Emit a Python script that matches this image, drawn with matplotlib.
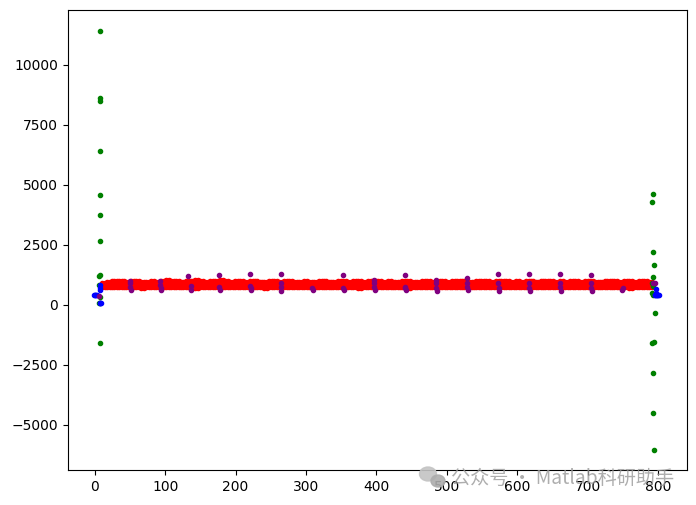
import matplotlib.pyplot as plt
from matplotlib.patches import Ellipse

# red band, sampled along x
red_x = [10, 17, 24, 31, 38, 45, 52, 59, 66, 73, 80, 87, 94, 101, 108, 115, 122, 129, 136, 143,
         150, 157, 164, 171, 178, 185, 192, 199, 206, 213, 220, 227, 234, 241, 248, 255, 262, 269, 276, 283,
         290, 297, 304, 311, 318, 325, 332, 339, 346, 353, 360, 367, 374, 381, 388, 395, 402, 409, 416, 423,
         430, 437, 444, 451, 458, 465, 472, 479, 486, 493, 500, 507, 514, 521, 528, 535, 542, 549, 556, 563,
         570, 577, 584, 591, 598, 605, 612, 619, 626, 633, 640, 647, 654, 661, 668, 675, 682, 689, 696, 703,
         710, 717, 724, 731, 738, 745, 752, 759, 766, 773, 780, 787]
red_x2 = [14, 21, 28, 35, 42, 49, 56, 63, 70, 77, 84, 91, 98, 105, 112, 119, 126, 133, 140, 147,
          154, 161, 168, 175, 182, 189, 196, 203, 210, 217, 224, 231, 238, 245, 252, 259, 266, 273, 280, 287,
          294, 301, 308, 315, 322, 329, 336, 343, 350, 357, 364, 371, 378, 385, 392, 399, 406, 413, 420, 427,
          434, 441, 448, 455, 462, 469, 476, 483, 490, 497, 504, 511, 518, 525, 532, 539, 546, 553, 560, 567,
          574, 581, 588, 595, 602, 609, 616, 623, 630, 637, 644, 651, 658, 665, 672, 679, 686, 693, 700, 707,
          714, 721, 728, 735, 742, 749, 756, 763, 770, 777, 784, 791]
red_top = [900, 960, 990, 1010, 980, 960, 980, 990, 960, 970, 980, 960, 990, 1030, 1000, 980, 960, 990, 1020, 1030,
           990, 960, 980, 1010, 1030, 990, 970, 990, 980, 960, 1000, 990, 970, 960, 990, 980, 960, 1000, 980, 960,
           950, 980, 960, 940, 980, 990, 960, 970, 980, 1000, 960, 980, 990, 970, 1010, 1020, 980, 960, 990, 970,
           960, 980, 1000, 960, 950, 990, 980, 970, 1000, 980, 960, 990, 1010, 980, 970, 960, 1000, 980, 990, 960,
           980, 1010, 990, 970, 980, 960, 1000, 980, 970, 990, 1010, 980, 960, 990, 970, 980, 1000, 960, 980, 990,
           970, 960, 990, 980, 1000, 970, 980, 990, 960, 980, 1000, 970]
red_upper = [860, 880, 880, 880, 880, 880, 880, 880, 880, 880, 880, 880, 880, 880, 880, 880, 880, 880, 880, 880,
             880, 880, 880, 880, 880, 880, 880, 880, 880, 880, 880, 880, 880, 880, 880, 880, 880, 880, 880, 880,
             880, 880, 880, 880, 880, 880, 880, 880, 880, 880, 880, 880, 880, 880, 880, 880, 880, 880, 880, 880,
             880, 880, 880, 880, 880, 880, 880, 880, 880, 880, 880, 880, 880, 880, 880, 880, 880, 880, 880, 880,
             880, 880, 880, 880, 880, 880, 880, 880, 880, 880, 880, 880, 880, 880, 880, 880, 880, 880, 880, 880,
             880, 880, 880, 880, 880, 880, 880, 880, 880, 880, 880, 880]
red_lower = [800, 810, 810, 810, 810, 810, 810, 810, 810, 810, 810, 810, 810, 810, 810, 810, 810, 810, 810, 810,
             810, 810, 810, 810, 810, 810, 810, 810, 810, 810, 810, 810, 810, 810, 810, 810, 810, 810, 810, 810,
             810, 810, 810, 810, 810, 810, 810, 810, 810, 810, 810, 810, 810, 810, 810, 810, 810, 810, 810, 810,
             810, 810, 810, 810, 810, 810, 810, 810, 810, 810, 810, 810, 810, 810, 810, 810, 810, 810, 810, 810,
             810, 810, 810, 810, 810, 810, 810, 810, 810, 810, 810, 810, 810, 810, 810, 810, 810, 810, 810, 810,
             810, 810, 810, 810, 810, 810, 810, 810, 810, 810, 810, 810]
red_bottom = [740, 730, 730, 735, 730, 730, 735, 730, 720, 730, 730, 735, 730, 730, 730, 735, 730, 730, 730, 720,
              730, 735, 730, 730, 730, 730, 735, 730, 730, 730, 730, 735, 730, 720, 730, 730, 735, 730, 730, 730,
              735, 730, 730, 730, 730, 735, 730, 730, 730, 730, 735, 730, 700, 730, 730, 730, 735, 730, 730, 730,
              735, 730, 700, 730, 730, 735, 730, 730, 730, 730, 735, 730, 730, 730, 730, 735, 730, 730, 730, 735,
              730, 730, 730, 730, 735, 730, 730, 730, 730, 735, 730, 730, 730, 730, 735, 730, 730, 730, 730, 735,
              730, 730, 730, 730, 735, 730, 730, 700, 730, 730, 735, 730]

green_x = [7, 7, 7, 7, 7, 7, 7, 7, 6, 6, 7, 6, 7, 7,
           793, 792, 793, 794, 793, 792, 793, 792, 793, 795, 794, 792, 793, 793, 794]
green_y = [11400, 8620, 8500, 6400, 4600, 3750, 2650, 1250, 1200, 850, 350, 100, 100, -1600,
           4620, 4300, 2200, 1650, 1170, 920, 800, 500, 400, -350, -1550, -1600, -2850, -4500, -6050]

blue_x = [-1, 0, 1, 2, 3, 8, 8, 8, 7, 8, 9, 797, 797, 795, 796, 797, 798, 799, 800, 801]
blue_y = [400, 400, 400, 400, 400, 820, 720, 620, 80, 80, 80, 660, 500, 400, 400, 400, 400, 400, 400, 400]

purple_x = [6, 50, 50, 50, 51, 93, 93, 94, 94, 132, 137, 137, 177, 177, 178, 221, 221, 222, 222,
            265, 265, 265, 265, 309, 310, 353, 353, 354, 397, 397, 397, 398, 441, 441, 441, 442,
            485, 485, 485, 486, 529, 529, 529, 530, 573, 573, 574, 574, 617, 617, 617, 618,
            661, 661, 661, 662, 705, 705, 705, 706, 749, 750, 793, 795]
purple_y = [375, 1020, 900, 750, 620, 1000, 850, 720, 620, 1220, 800, 620, 1260, 750, 640, 1300, 800, 720, 620,
            1300, 900, 760, 600, 720, 620, 1260, 720, 620, 1060, 900, 760, 620, 1260, 760, 700, 620,
            1040, 900, 720, 600, 1120, 900, 760, 620, 1300, 900, 720, 580, 1300, 900, 720, 580,
            1300, 900, 760, 580, 1260, 900, 720, 600, 640, 700, 900, 900]

x_ticks = [0, 100, 200, 300, 400, 500, 600, 700, 800]
y_ticks = [-5000, -2500, 0, 2500, 5000, 7500, 10000]

fig = plt.figure(figsize=(6.96, 5.05), dpi=100)
ax = fig.add_axes([68 / 696, 1 - 470 / 505, 619 / 696, 460 / 505])

ax.plot(red_x, red_top, '.', color='red')
ax.plot(red_x2, red_top, '.', color='red')
ax.plot(red_x, red_upper, '.', color='red')
ax.plot(red_x2, red_upper, '.', color='red')
ax.plot(red_x, red_lower, '.', color='red')
ax.plot(red_x2, red_lower, '.', color='red')
ax.plot(red_x, red_bottom, '.', color='red')
ax.plot(red_x2, red_bottom, '.', color='red')
ax.plot(green_x, green_y, '.', color='green')
ax.plot(blue_x, blue_y, '.', color='blue')
ax.plot(purple_x, purple_y, '.', color='purple')

ax.set_xlim(-38, 841)
ax.set_ylim(-6875, 12290)
ax.set_xticks(x_ticks)
ax.set_yticks(y_ticks)

# watermark over the bottom right corner
fig.patches.append(Ellipse((428, 505 - 474), 17, 14, color='#c4c4c4', alpha=0.9, transform=None))
fig.patches.append(Ellipse((438, 505 - 481), 14, 12, color='#adadad', alpha=0.9, transform=None))
fig.text(451 / 696, 1 - 478 / 505, '公众号 · Matlab科研助手', color='#9a9a9a', alpha=0.8,
         family=['Noto Sans CJK SC', 'DejaVu Sans'], fontsize=13.8, va='center', ha='left')

plt.savefig('out.png', dpi=100)
